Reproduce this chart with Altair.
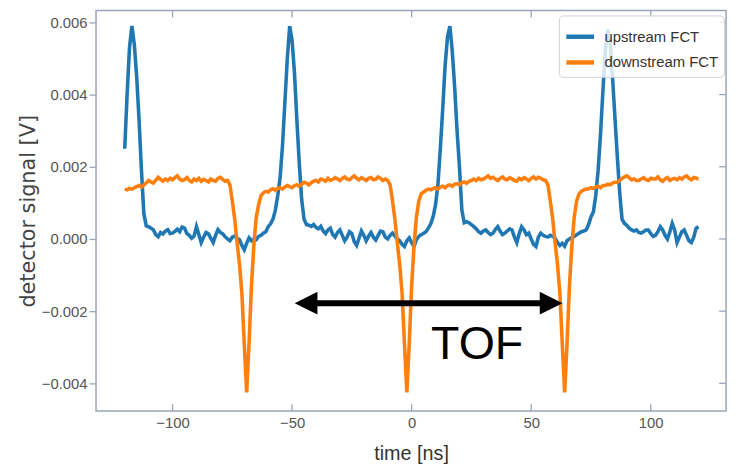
import altair as alt
import pandas as pd

# ---------------- data ----------------
time_ns = list(range(-120, 121))

upstream_mV = [
    2.50, 4.00, 5.30, 5.90, 5.40, 4.50, 3.30, 1.90, 0.70, 0.36,
    0.34, 0.30, 0.25, 0.12, 0.06, 0.18, 0.14, 0.22, 0.26, 0.15,
    0.16, 0.21, 0.27, 0.20, 0.33, 0.30, 0.15, 0.10, 0.02, 0.08,
    0.34, 0.12, -0.10, 0.05, 0.18, 0.14, 0.02, -0.10, 0.10, 0.26,
    0.18, 0.14, 0.06, 0.00, -0.05, 0.05, 0.08, 0.02, -0.02, -0.18,
    -0.30, -0.12, 0.03, -0.05, 0.00, -0.02, 0.07, 0.10, 0.16, 0.20,
    0.34, 0.42, 0.55, 0.80, 1.20, 1.70, 2.60, 3.80, 5.00, 5.90,
    5.50, 4.60, 3.30, 2.10, 1.10, 0.55, 0.40, 0.38, 0.35, 0.40,
    0.32, 0.28, 0.35, 0.22, 0.15, 0.25, 0.30, 0.12, 0.05, 0.18,
    0.25, 0.10, -0.05, 0.05, 0.20, 0.15, -0.08, -0.18, 0.02, 0.22,
    0.10, -0.05, 0.08, 0.18, 0.05, -0.03, 0.10, 0.22, 0.20, 0.05,
    0.00, 0.10, 0.16, 0.08, 0.00, -0.05, -0.15, -0.21, -0.05, 0.03,
    -0.10, -0.21, -0.02, 0.07, 0.12, 0.16, 0.20, 0.30, 0.42, 0.62,
    0.95, 1.50, 2.50, 3.60, 4.80, 5.60, 5.90, 5.20, 4.20, 3.00,
    2.00, 0.80, 0.45, 0.48, 0.45, 0.40, 0.34, 0.28, 0.20, 0.16,
    0.22, 0.25, 0.18, 0.12, 0.16, 0.26, 0.34, 0.22, 0.12, 0.16,
    0.22, 0.28, 0.25, 0.05, -0.10, 0.15, 0.34, 0.25, 0.12, 0.16,
    0.00, -0.15, -0.21, 0.05, 0.16, 0.10, 0.07, 0.05, 0.10, 0.07,
    0.02, -0.10, -0.18, -0.12, -0.20, -0.05, 0.00, 0.04, 0.07, 0.12,
    0.16, 0.20, 0.22, 0.25, 0.40, 0.61, 0.75, 1.20, 1.90, 2.90,
    4.10, 5.20, 5.80, 5.50, 4.50, 3.40, 2.30, 1.30, 0.55, 0.43,
    0.38, 0.30, 0.25, 0.22, 0.25, 0.18, 0.16, 0.20, 0.25, 0.25,
    0.15, 0.07, 0.10, 0.20, 0.34, 0.25, 0.10, 0.00, 0.20, 0.43,
    0.25, -0.10, 0.05, 0.20, 0.25, 0.10, -0.05, -0.10, 0.05, 0.30, 0.34,
]

downstream_mV = [
    1.38, 1.36, 1.40, 1.38, 1.42, 1.45, 1.48, 1.44, 1.50, 1.55,
    1.62, 1.58, 1.55, 1.63, 1.71, 1.65, 1.60, 1.66, 1.62, 1.68,
    1.64, 1.70, 1.75, 1.66, 1.62, 1.64, 1.70, 1.62, 1.58, 1.66,
    1.62, 1.68, 1.60, 1.65, 1.62, 1.58, 1.66, 1.62, 1.60, 1.68,
    1.71, 1.65, 1.60, 1.62, 1.50, 1.05, 0.55, -0.10, -0.70, -1.50,
    -2.90, -4.25, -2.90, -1.30, -0.20, 0.60, 0.95, 1.20, 1.28, 1.32,
    1.30, 1.36, 1.39, 1.35, 1.40, 1.42, 1.38, 1.44, 1.48, 1.45,
    1.42, 1.48, 1.50, 1.46, 1.52, 1.57, 1.55, 1.50, 1.56, 1.60,
    1.62, 1.58, 1.66, 1.64, 1.60, 1.68, 1.62, 1.65, 1.70, 1.66,
    1.62, 1.68, 1.72, 1.66, 1.64, 1.70, 1.75, 1.68, 1.64, 1.70,
    1.66, 1.62, 1.68, 1.70, 1.64, 1.66, 1.72, 1.68, 1.62, 1.66,
    1.62, 1.50, 1.05, 0.55, -0.10, -0.70, -1.50, -2.90, -4.25, -2.90,
    -1.30, -0.20, 0.60, 1.05, 1.25, 1.30, 1.35, 1.38, 1.36, 1.40,
    1.42, 1.38, 1.44, 1.46, 1.42, 1.48, 1.50, 1.46, 1.52, 1.53,
    1.50, 1.56, 1.58, 1.54, 1.60, 1.62, 1.66, 1.62, 1.68, 1.64,
    1.66, 1.70, 1.75, 1.68, 1.71, 1.66, 1.62, 1.68, 1.72, 1.66,
    1.64, 1.70, 1.66, 1.62, 1.60, 1.68, 1.64, 1.70, 1.66, 1.62,
    1.68, 1.72, 1.66, 1.71, 1.68, 1.64, 1.62, 1.50, 1.05, 0.55,
    -0.10, -0.70, -1.50, -2.90, -4.25, -2.90, -1.30, -0.20, 0.60, 1.05,
    1.25, 1.32, 1.36, 1.38, 1.39, 1.42, 1.40, 1.44, 1.46, 1.42,
    1.48, 1.48, 1.52, 1.50, 1.55, 1.57, 1.57, 1.62, 1.68, 1.72,
    1.75, 1.70, 1.64, 1.66, 1.62, 1.62, 1.66, 1.70, 1.64, 1.62,
    1.68, 1.66, 1.66, 1.72, 1.64, 1.60, 1.66, 1.70, 1.62, 1.66,
    1.68, 1.64, 1.70, 1.66, 1.72, 1.75, 1.68, 1.64, 1.70, 1.68, 1.66,
]

series_names = ["upstream FCT", "downstream FCT"]
series_colors = ["#1f77b4", "#ff7f0e"]

x_ticks = [-100, -50, 0, 50, 100]
y_ticks = [-0.004, -0.002, 0.0, 0.002, 0.004, 0.006]
x_domain = [-132.0, 131.5]
y_domain = [-0.00477, 0.00633]

# TOF annotation (data coordinates)
arrow_tips_t = [-48.9, 63.1]
arrow_v = -0.00178
shaft_t = [-43.0, 57.0]
tof_label = "TOF"
tof_t = 27.4
tof_v = -0.00332

# ---------------- styling ----------------
PLOT_W = 637
PLOT_H = 405
FRAME = "#99a6b7"
SANS = "Liberation Sans"

df_up = pd.DataFrame({"t": time_ns, "v": [u / 1000.0 for u in upstream_mV],
                      "series": series_names[0]})
df_down = pd.DataFrame({"t": time_ns, "v": [d / 1000.0 for d in downstream_mV],
                        "series": series_names[1]})

x_enc = alt.X("t:Q", scale=alt.Scale(domain=x_domain, nice=False, zero=False),
              axis=alt.Axis(values=x_ticks, format="d", domain=False, ticks=False,
                            grid=False, labelFont=SANS, labelFontSize=15,
                            labelColor="#555555", labelPadding=5,
                            title="time [ns]", titleFont=SANS, titleFontSize=20,
                            titleFontWeight="normal", titleColor="#333333",
                            titlePadding=13))
y_enc = alt.Y("v:Q", scale=alt.Scale(domain=y_domain, nice=False, zero=False),
              axis=alt.Axis(values=y_ticks, format=".3f", domain=False, ticks=True,
                            tickSize=7, tickColor=FRAME, tickWidth=1.3, grid=False,
                            labelFont=SANS, labelFontSize=15, labelColor="#555555",
                            labelPadding=2, title="detector signal [V]",
                            titleFont="DejaVu Sans", titleFontSize=21,
                            titleFontWeight="normal", titleColor="#444444",
                            titlePadding=3))

color_enc = alt.Color(
    "series:N",
    scale=alt.Scale(domain=series_names, range=series_colors),
    legend=alt.Legend(title=None, orient="none", legendX=468, legendY=5,
                      symbolType="stroke", symbolSize=784, symbolStrokeWidth=4.5,
                      labelFont=SANS, labelFontSize=15, labelColor="#333333",
                      labelOffset=8, rowPadding=0, padding=5,
                      fillColor="rgba(255,255,255,0.8)", strokeColor="#d0d0d0",
                      cornerRadius=4),
)

line_up = alt.Chart(df_up).mark_line(strokeWidth=3.6).encode(
    x=x_enc, y=y_enc, color=color_enc)
line_down = alt.Chart(df_down).mark_line(strokeWidth=3.6).encode(
    x=x_enc, y=y_enc, color=color_enc)

xt = pd.DataFrame({"t": x_ticks})
yt = pd.DataFrame({"v": y_ticks})
bottom_ticks = alt.Chart(xt).mark_rule(color=FRAME, strokeWidth=1.3).encode(
    x=x_enc, y=alt.value(PLOT_H - 7), y2=alt.value(PLOT_H))
top_ticks = alt.Chart(xt).mark_rule(color=FRAME, strokeWidth=1.3).encode(
    x=x_enc, y=alt.value(0), y2=alt.value(7))
right_ticks = alt.Chart(yt).mark_rule(color=FRAME, strokeWidth=1.3).encode(
    y=y_enc, x=alt.value(PLOT_W - 7), x2=alt.value(PLOT_W))

shaft_df = pd.DataFrame({"t": [shaft_t[0]], "t_end": [shaft_t[1]], "v": [arrow_v]})
shaft = alt.Chart(shaft_df).mark_rule(color="black", strokeWidth=6,
                                      strokeCap="butt").encode(
    x=x_enc, x2=alt.X2("t_end:Q"), y=y_enc)
left_head = alt.Chart(pd.DataFrame({"t": [arrow_tips_t[0]], "v": [arrow_v]})).mark_point(
    shape="M0,0 L1,-0.5 L1,0.5 Z", filled=True, size=2116, color="black",
    opacity=1, strokeWidth=0).encode(x=x_enc, y=y_enc)
right_head = alt.Chart(pd.DataFrame({"t": [arrow_tips_t[1]], "v": [arrow_v]})).mark_point(
    shape="M0,0 L-1,-0.5 L-1,0.5 Z", filled=True, size=2116, color="black",
    opacity=1, strokeWidth=0).encode(x=x_enc, y=y_enc)

tof = alt.Chart(pd.DataFrame({"t": [tof_t], "v": [tof_v], "label": [tof_label]})).mark_text(
    font="Liberation Sans", fontSize=47, color="black", align="center",
    baseline="alphabetic").encode(x=x_enc, y=y_enc, text="label:N")

chart = alt.layer(
    line_up, line_down, bottom_ticks, top_ticks, right_ticks,
    shaft, left_head, right_head, tof,
).properties(
    width=PLOT_W, height=PLOT_H,
    autosize=alt.AutoSizeParams(type="none"),
    padding={"left": 89, "top": 0, "right": 4, "bottom": 56},
    background="white",
).configure_view(
    stroke=FRAME, strokeWidth=1.5,
)

chart.save("out.html", embed_options={"renderer": "svg", "actions": False})
